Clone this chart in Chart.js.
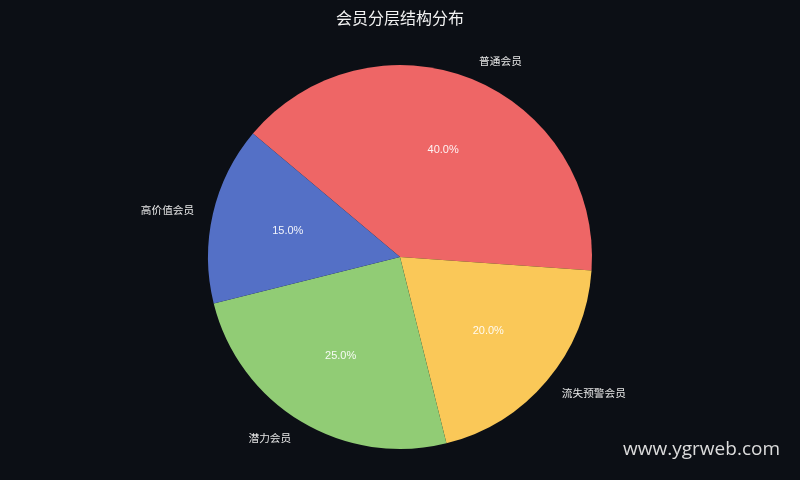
<!DOCTYPE html>
<html>
<head>
<meta charset="utf-8">
<script src="https://cdn.jsdelivr.net/npm/chart.js@4/dist/chart.umd.min.js"></script>
<style>
  html, body { margin: 0; padding: 0; background: #0c0f15; }
  #wrap { width: 800px; height: 480px; position: relative; }
</style>
</head>
<body>
<div id="wrap"><canvas id="pie"></canvas></div>
<script>
// Daten (Reihenfolge im Uhrzeigersinn ab Startwinkel)
const labels = ['普通会员', '流失预警会员', '潜力会员', '高价值会员'];
const values = [40, 20, 25, 15];
const colors = ['#ee6666', '#fac858', '#91cc75', '#5470c6'];
const title = '会员分层结构分布';
const watermark = 'www.ygrweb.com';

const cjk = '"Noto Sans CJK SC", "DejaVu Sans", sans-serif';

// Beschriftungen wie bei matplotlib: Name aussen, Prozent innen
const pieText = {
  id: 'pieText',
  afterDatasetsDraw(chart) {
    const ctx = chart.ctx;
    const total = values.reduce((a, b) => a + b, 0);
    ctx.save();
    chart.getDatasetMeta(0).data.forEach((arc, i) => {
      const p = arc.getProps(['x', 'y', 'startAngle', 'endAngle', 'outerRadius'], true);
      const mid = (p.startAngle + p.endAngle) / 2;
      const cx = Math.cos(mid), cy = Math.sin(mid);
      // Name
      ctx.font = '10.7px ' + cjk;
      ctx.fillStyle = '#e6e6e6';
      ctx.textBaseline = 'middle';
      ctx.textAlign = cx >= 0 ? 'left' : 'right';
      ctx.fillText(labels[i], p.x + cx * p.outerRadius * 1.1, p.y + cy * p.outerRadius * 1.1);
      // Prozent
      ctx.font = '11px "Liberation Sans", Arial, sans-serif';
      ctx.fillStyle = 'rgba(255,255,255,0.92)';
      ctx.textAlign = 'center';
      const pct = (values[i] / total * 100).toFixed(1) + '%';
      ctx.fillText(pct, p.x + cx * p.outerRadius * 0.6, p.y + cy * p.outerRadius * 0.6);
    });
    // Titel
    ctx.font = '16px ' + cjk;
    ctx.fillStyle = '#f2f2f2';
    ctx.textAlign = 'center';
    ctx.textBaseline = 'middle';
    ctx.fillText(title, 400, 18);
    // Wasserzeichen
    ctx.font = '19px "Open Sans", "Noto Sans", sans-serif';
    ctx.fillStyle = '#dcdcdc';
    ctx.textAlign = 'right';
    ctx.textBaseline = 'alphabetic';
    ctx.fillText(watermark, 780, 455);
    ctx.restore();
  }
};

new Chart(document.getElementById('pie'), {
  type: 'pie',
  data: {
    labels: labels,
    datasets: [{
      data: values,
      backgroundColor: colors,
      borderWidth: 0
    }]
  },
  options: {
    responsive: true,
    maintainAspectRatio: false,
    animation: false,
    rotation: -50,
    layout: { padding: { top: 65, bottom: 31 } },
    plugins: {
      legend: { display: false },
      tooltip: { enabled: false },
      title: { display: false }
    }
  },
  plugins: [pieText]
});
</script>
</body>
</html>
